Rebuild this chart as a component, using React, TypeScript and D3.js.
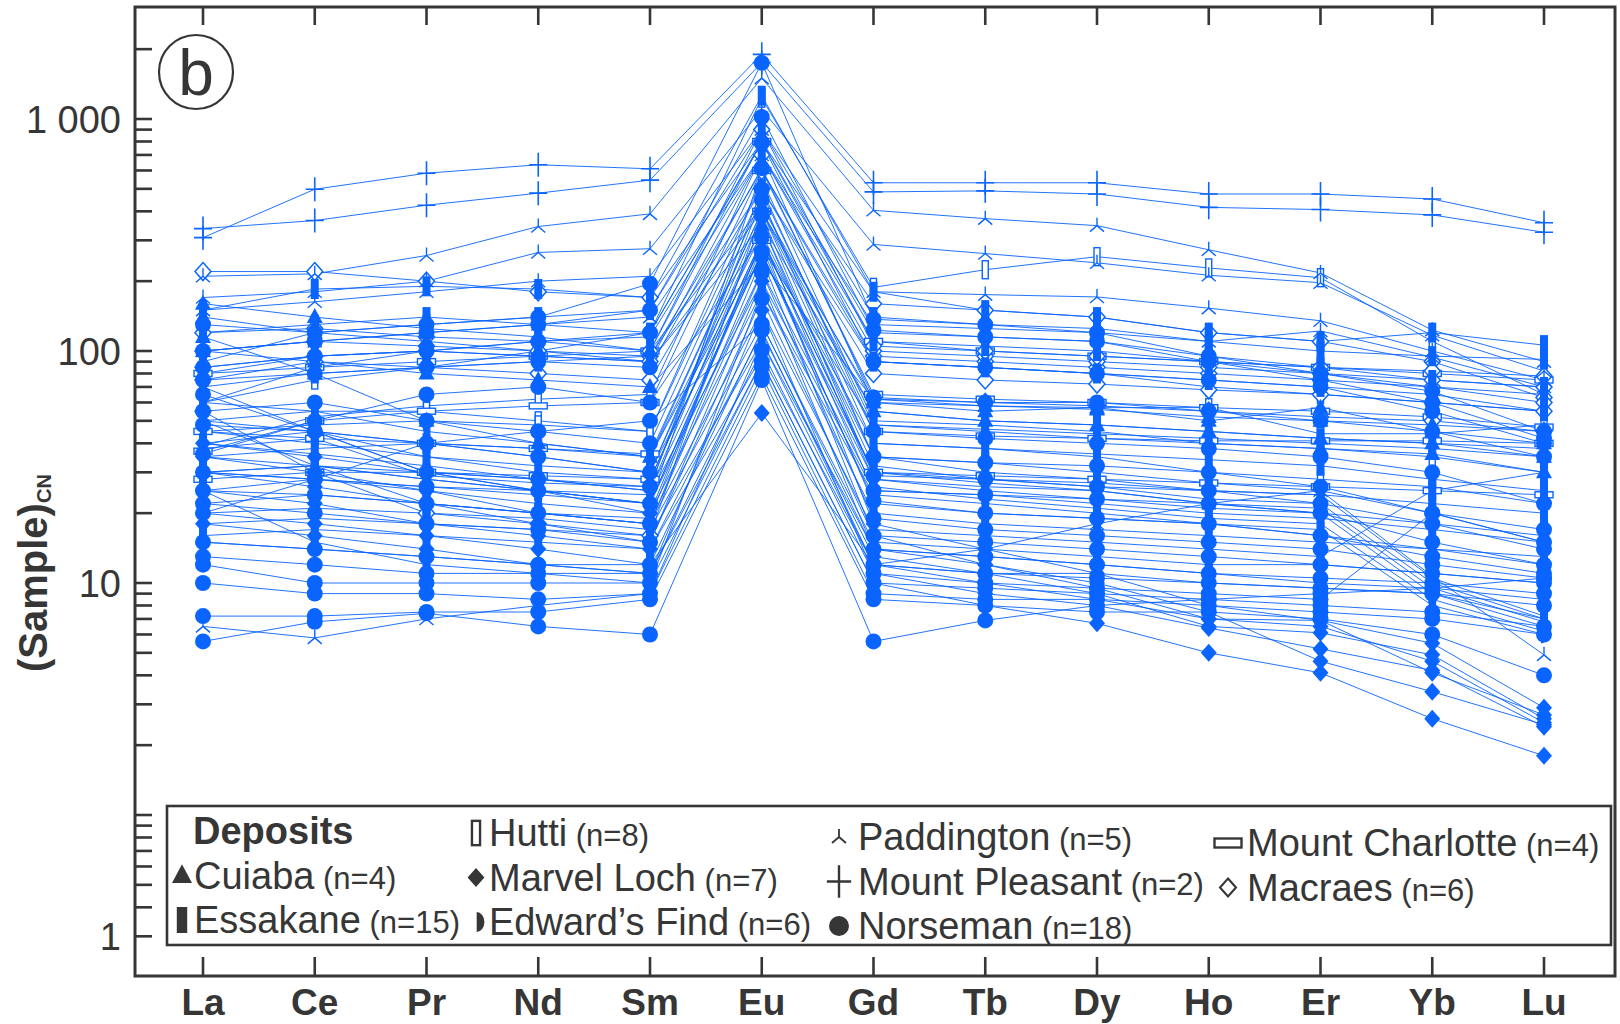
import React from "react";
import * as d3 from "d3";

// Chondrite-normalised REE patterns of scheelite by deposit
const elements = ["La", "Ce", "Pr", "Nd", "Sm", "Eu", "Gd", "Tb", "Dy", "Ho", "Er", "Yb", "Lu"];

const cuiaba = [
  [160, 140, 125, 115, 100, 420, 60, 55, 57, 50, 57, 45, 40],
  [140, 120, 110, 100, 90, 350, 55, 50, 48, 45, 42, 40, 35],
  [115, 80, 50, 40, 35, 280, 48, 45, 42, 40, 38, 36, 30],
  [100, 90, 80, 75, 70, 240, 62, 58, 56, 52, 50, 48, 45],
];

const essakane = [
  [150, 185, 190, 185, 170, 1260, 180, 150, 140, 120, 110, 120, 106],
  [90, 120, 130, 140, 150, 900, 140, 130, 125, 110, 100, 95, 92],
  [80, 95, 100, 110, 115, 700, 110, 105, 100, 90, 80, 70, 65],
  [70, 80, 85, 90, 95, 500, 90, 85, 80, 75, 70, 65, 55],
  [60, 85, 100, 95, 90, 400, 55, 50, 48, 45, 42, 40, 38],
  [50, 32, 22, 20, 19, 300, 40, 38, 36, 34, 32, 28, 25],
  [40, 45, 35, 32, 30, 260, 30, 28, 27, 25, 24, 22, 20],
  [30, 32, 28, 25, 24, 200, 25, 24, 22, 20, 19, 17, 15],
  [25, 15, 12, 11, 10, 180, 20, 18, 17, 16, 15, 14, 13],
  [22, 24, 22, 20, 18, 150, 17, 16, 15, 14, 13, 25, 30],
  [20, 21, 20, 19, 17, 130, 15, 14, 13, 12, 12, 11, 10],
  [18, 19, 18, 17, 16, 110, 14, 13, 12, 11, 10, 9.5, 8.5],
  [16, 17, 16, 15, 14, 95, 12, 11, 11, 10, 9.5, 9, 7],
  [35, 38, 40, 38, 35, 320, 35, 33, 30, 27, 25, 20, 15],
  [120, 130, 140, 130, 120, 800, 120, 115, 110, 95, 85, 75, 70],
];

const hutti = [
  [60, 75, 85, 100, 120, 1230, 188, 224, 255, 228, 207, 110, 65],
  [39, 52, 58, 62, 65, 700, 60, 58, 57, 57, 44, 44, 48],
  [38, 42, 29, 27, 26, 450, 40, 38, 35, 30, 28, 26, 22],
  [70, 45, 30, 25, 22, 600, 90, 85, 80, 70, 65, 60, 55],
  [30, 32, 30, 28, 25, 350, 28, 26, 25, 22, 20, 18, 16],
  [50, 55, 55, 50, 45, 550, 50, 48, 45, 40, 38, 35, 30],
  [25, 28, 26, 24, 22, 280, 22, 20, 19, 18, 16, 14, 12],
  [45, 48, 50, 48, 45, 480, 48, 46, 44, 42, 40, 38, 35],
];

const marvelLoch = [
  [20, 18, 16, 14, 12, 54, 12, 10, 8.5, 7, 6.9, 5.5, 2.9],
  [25, 22, 18, 16, 14, 120, 13, 11, 9, 6.5, 6.1, 4.9, 2.6],
  [30, 26, 22, 18, 15, 200, 14, 12, 10, 7.5, 4.6, 3.4, 2.45],
  [18, 16, 14, 12, 11, 90, 10, 8, 6.7, 5.0, 4.1, 2.6, 1.8],
  [40, 35, 30, 25, 20, 300, 18, 14, 11, 8, 6.9, 4.1, 2.7],
  [35, 30, 25, 20, 18, 250, 16, 12, 9.5, 7, 6.5, 4.6, 2.5],
  [15, 14, 13, 12, 11, 150, 11, 9, 8, 6.4, 5.2, 4.2, 2.4],
];

const edwardsFind = [
  [60, 55, 45, 40, 35, 400, 35, 30, 28, 25, 24, 10.5, 7.2],
  [50, 45, 40, 35, 30, 350, 32, 28, 26, 23, 22, 10, 7.0],
  [45, 40, 35, 30, 28, 300, 30, 27, 25, 22, 21, 9.5, 6.8],
  [40, 36, 32, 28, 25, 260, 28, 25, 23, 21, 20, 9.0, 6.5],
  [35, 32, 28, 25, 22, 220, 26, 23, 21, 19, 18, 8.5, 6.2],
  [30, 28, 25, 22, 20, 180, 24, 22, 20, 18, 17, 8.0, 6.0],
];

const paddington = [
  [210, 215, 258, 344, 390, 1500, 404, 372, 347, 273, 217, 123, 90],
  [170, 180, 200, 266, 276, 1100, 288, 263, 240, 212, 197, 117, 82],
  [150, 163, 180, 200, 210, 900, 180, 175, 171, 153, 135, 100, 75],
  [100, 110, 120, 130, 140, 700, 130, 125, 120, 110, 122, 94, 70],
  [6.5, 5.8, 7, 8, 9, 110, 12, 14, 18, 22, 25, 10.7, 4.9],
];

const mountPleasant = [
  [337, 365, 425, 479, 545, 1750, 485, 490, 475, 416, 407, 386, 325],
  [308, 498, 584, 635, 610, 1900, 531, 531, 531, 475, 475, 452, 357],
];

const norseman = [
  [130, 120, 130, 140, 195, 1746, 137, 130, 120, 95, 80, 67, 45],
  [100, 110, 120, 130, 150, 1020, 123, 115, 110, 90, 75, 60, 42],
  [85, 95, 100, 110, 120, 787, 90, 85, 80, 75, 70, 55, 40],
  [75, 80, 85, 90, 85, 614, 63, 60, 60, 55, 50, 45, 35],
  [65, 45, 30, 28, 26, 498, 45, 42, 40, 38, 35, 30, 22],
  [55, 60, 50, 45, 40, 450, 35, 33, 32, 30, 26, 20, 17],
  [48, 45, 40, 35, 30, 384, 29, 28, 26, 25, 22, 18, 14],
  [36, 50, 65, 70, 60, 312, 25, 24, 23, 22, 20, 15, 12],
  [30, 28, 26, 25, 22, 268, 22.6, 20, 19, 18, 16, 13, 11],
  [25, 24, 22, 20, 18, 218, 19, 17, 16, 15, 14, 12, 10.5],
  [22, 20, 18, 17, 15, 168, 16, 15, 14, 13, 12, 11, 10],
  [20, 28, 40, 45, 50, 131, 14, 13, 12, 11, 10.5, 10, 9],
  [15, 14, 13, 12, 12, 123, 12, 11, 10.5, 10, 9.5, 9, 8],
  [13, 12, 11, 11, 11, 101, 11, 10, 9.5, 9, 8.5, 20, 15],
  [12, 10, 10, 10, 10, 90, 10, 9.5, 9, 8.5, 8, 7.5, 6.5],
  [10, 9, 9, 8.5, 9, 85, 9, 8.5, 8.5, 8, 7.5, 7, 6],
  [7.2, 7.2, 7.5, 7.5, 8.5, 78, 8.5, 8, 7.5, 7.5, 7, 6, 4.0],
  [5.6, 6.8, 7.4, 6.5, 6.0, 75, 5.6, 6.9, 8, 8.5, 9, 9.5, 10.5],
];

const mountCharlotte = [
  [37, 50, 55, 58, 60, 600, 65, 62, 60, 57, 55, 52, 47],
  [80, 85, 90, 95, 100, 800, 110, 100, 95, 90, 85, 80, 75],
  [45, 42, 40, 38, 36, 400, 45, 43, 42, 41, 41, 41, 40],
  [28, 30, 30, 29, 28, 300, 30, 29, 28, 27, 26, 25, 24],
];

const macraes = [
  [220, 220, 200, 180, 170, 800, 160, 150, 140, 120, 110, 90, 63],
  [100, 110, 105, 100, 95, 600, 95, 90, 85, 80, 75, 70, 60],
  [75, 90, 85, 80, 75, 500, 80, 75, 72, 68, 65, 60, 55],
  [55, 30, 20, 18, 16, 400, 62, 60, 58, 55, 52, 50, 45],
  [85, 95, 100, 95, 90, 700, 100, 95, 90, 85, 80, 75, 70],
  [120, 125, 115, 110, 100, 900, 105, 100, 95, 90, 85, 82, 78],
];

const depositNames = [
  "Cuiaba", "Essakane", "Hutti", "Marvel Loch", "Edward\u2019s Find",
  "Paddington", "Mount Pleasant", "Norseman", "Mount Charlotte", "Macraes",
];
const depositSamples = [
  cuiaba, essakane, hutti, marvelLoch, edwardsFind,
  paddington, mountPleasant, norseman, mountCharlotte, macraes,
];
const depositMarkers = [
  "triangle", "bar", "openTall", "diamond", "half",
  "tri", "plus", "circle", "openWide", "openDiamond",
];

// y-axis labels (value at which each label is printed, and its text)
const yLabelValues = [1000, 100, 10, 0.3];
const yLabelTexts = ["1 000", "100", "10", "1"];

// legend arrangement: deposit index per column, top to bottom (-1 = heading)
const legendColumns = [[-1, 0, 1], [2, 3, 4], [5, 6, 7], [8, 9]];

const BLUE = "#0a64ff";
const INK = "#363636";
const FONT = "'Liberation Sans', Arial, Helvetica, sans-serif";

const W = 1620;
const H = 1024;
const plot = { left: 135, right: 1615, top: 7, bottom: 976 };

// hollow symbols go underneath, filled ones on top, stroke-only symbols last
const layerOf: Record<string, number> = {
  openWide: 0,
  openDiamond: 0,
  openTall: 0,
  half: 1,
  diamond: 1,
  triangle: 1,
  bar: 1,
  circle: 1,
  tri: 2,
  plus: 2,
};

function Marker({
  kind,
  color,
  scale = 1,
  sw = 1,
}: {
  kind: string;
  color: string;
  scale?: number;
  sw?: number;
}) {
  const s = scale;
  switch (kind) {
    case "circle":
      return <circle r={8 * s} fill={color} />;
    case "bar":
      return <rect x={-4 * s} y={-10 * s} width={8 * s} height={20 * s} fill={color} />;
    case "triangle":
      return <path d={`M0,${-9 * s}L${8 * s},${6 * s}L${-8 * s},${6 * s}Z`} fill={color} />;
    case "openTall":
      return (
        <rect x={-3 * s} y={-9 * s} width={6 * s} height={18 * s} fill="#fff" stroke={color} strokeWidth={1.4 * sw} />
      );
    case "openWide":
      return (
        <rect x={-9 * s} y={-3 * s} width={18 * s} height={6 * s} fill="#fff" stroke={color} strokeWidth={1.4 * sw} />
      );
    case "diamond":
      return <path d={`M0,${-9 * s}L${8 * s},0L0,${9 * s}L${-8 * s},0Z`} fill={color} />;
    case "openDiamond":
      return (
        <path
          d={`M0,${-9 * s}L${8 * s},0L0,${9 * s}L${-8 * s},0Z`}
          fill="#fff"
          stroke={color}
          strokeWidth={1.5 * sw}
        />
      );
    case "half":
      return (
        <path d={`M${-3 * s},${-9 * s}A${7 * s},${9 * s} 0 0 1 ${-3 * s},${9 * s}Z`} fill={color} />
      );
    case "tri":
      return (
        <path
          d={`M0,${-8 * s}L0,0M0,0L${-7 * s},${6 * s}M0,0L${7 * s},${6 * s}`}
          fill="none"
          stroke={color}
          strokeWidth={1.4 * sw}
        />
      );
    case "plus":
      return (
        <path
          d={`M${-9 * s},0H${9 * s}M0,${-12 * s}V${12 * s}`}
          fill="none"
          stroke={color}
          strokeWidth={1.6 * sw}
        />
      );
    default:
      return null;
  }
}

export default function App() {
  const x = d3.scalePoint<string>().domain(elements).range([203, 1544]);
  const y = d3.scaleLog().domain([10, 1000]).range([583, 119]);

  const line = d3
    .line<number>()
    .x((_, i) => x(elements[i]) as number)
    .y((v) => y(v));

  // minor + major tick values on the log axis
  const tickValues: number[] = [];
  for (let k = -1; k <= 3; k++) {
    for (let m = 1; m <= 9; m++) {
      const v = m * Math.pow(10, k);
      const py = y(v);
      if (py > plot.top + 4 && py < plot.bottom - 10) tickValues.push(v);
    }
  }

  const series: { kind: string; values: number[]; key: string }[] = [];
  depositSamples.forEach((samples, d) => {
    samples.forEach((values, j) => {
      series.push({ kind: depositMarkers[d], values, key: `${d}-${j}` });
    });
  });

  const legendSym = [182, 476, 839, 1228];
  const legendText = [194, 489, 858, 1247];
  const legendBase = [844, 846, 850, 856];
  const rowStep = 44.5;
  const legendScale: Record<string, number> = {
    circle: 1.25,
    bar: 1.3,
    openTall: 1.35,
    triangle: 1.25,
    diamond: 1.05,
    half: 1.1,
    tri: 1.0,
    plus: 1.35,
    openWide: 1.5,
    openDiamond: 1.0,
  };
  const legendStroke: Record<string, number> = {
    openTall: 1.7,
    openWide: 1.7,
    openDiamond: 1.4,
    tri: 1.3,
    plus: 1.5,
  };

  return (
    <div style={{ position: "absolute", left: 0, top: 0 }}>
      <svg width={W} height={H} viewBox={`0 0 ${W} ${H}`} style={{ display: "block", background: "#fff" }}>
        <rect width={W} height={H} fill="#fff" />

        {/* sample patterns */}
        <g fill="none" stroke={BLUE} strokeWidth={1} strokeOpacity={0.9}>
          {series.map((s) => (
            <path key={s.key} d={line(s.values) || ""} />
          ))}
        </g>
        {[0, 1, 2].map((layer) => (
          <g key={`layer${layer}`}>
            {series
              .filter((s) => layerOf[s.kind] === layer)
              .map((s) =>
                s.values.map((v, i) => (
                  <g key={`${s.key}-${i}`} transform={`translate(${x(elements[i])},${y(v)})`}>
                    <Marker kind={s.kind} color={BLUE} />
                  </g>
                ))
              )}
          </g>
        ))}

        {/* frame */}
        <rect
          x={plot.left}
          y={plot.top}
          width={plot.right - plot.left}
          height={plot.bottom - plot.top}
          fill="none"
          stroke={INK}
          strokeWidth={3}
        />

        {/* y ticks */}
        <g stroke={INK} strokeWidth={2.6}>
          {tickValues.map((v) => (
            <line key={v} x1={plot.left} x2={plot.left + 17} y1={y(v)} y2={y(v)} />
          ))}
        </g>
        <g fill={INK} fontFamily={FONT} fontSize={38} textAnchor="end">
          {yLabelValues.map((v, i) => (
            <text key={v} x={121} y={y(v) + 14}>
              {yLabelTexts[i]}
            </text>
          ))}
        </g>

        {/* x ticks, top and bottom */}
        <g stroke={INK} strokeWidth={2.6}>
          {elements.map((e) => (
            <g key={e}>
              <line x1={x(e)} x2={x(e)} y1={plot.top} y2={plot.top + 18} />
              <line x1={x(e)} x2={x(e)} y1={plot.bottom} y2={plot.bottom - 19} />
            </g>
          ))}
        </g>
        <g fill={INK} fontFamily={FONT} fontSize={37} fontWeight="bold" textAnchor="middle">
          {elements.map((e) => (
            <text key={e} x={x(e)} y={1015}>
              {e}
            </text>
          ))}
        </g>

        {/* y title */}
        <text transform="translate(47,672) rotate(-90)" fill={INK} fontFamily={FONT} fontWeight="bold">
          <tspan fontSize={40}>(Sample)</tspan>
          <tspan fontSize={20} dy={4}>
            CN
          </tspan>
        </text>

        {/* panel letter */}
        <circle cx={196} cy={72} r={37} fill="#fff" stroke={INK} strokeWidth={2.2} />
        <text x={196} y={95} textAnchor="middle" fontFamily={FONT} fontSize={64} fill={INK}>
          b
        </text>

        {/* legend */}
        <rect x={167} y={806} width={1444} height={139} fill="#fff" stroke={INK} strokeWidth={2.6} />
        <g fontFamily={FONT} fill={INK}>
          {legendColumns.map((col, c) =>
            col.map((d, r) => {
              const base = legendBase[c] + r * rowStep;
              if (d < 0) {
                return (
                  <text key={`h${c}`} x={legendText[c] - 1} y={base} fontSize={38} fontWeight="bold">
                    Deposits
                  </text>
                );
              }
              const kind = depositMarkers[d];
              return (
                <g key={`l${d}`}>
                  <g transform={`translate(${legendSym[c] + (kind === "half" ? 4 : 0)},${base - 13})`}>
                    <Marker kind={kind} color={INK} scale={legendScale[kind]} sw={legendStroke[kind] || 1} />
                  </g>
                  <text x={legendText[c]} y={base} fontSize={38}>
                    {depositNames[d]}
                    <tspan fontSize={31}> (n={depositSamples[d].length})</tspan>
                  </text>
                </g>
              );
            })
          )}
        </g>
      </svg>
    </div>
  );
}
